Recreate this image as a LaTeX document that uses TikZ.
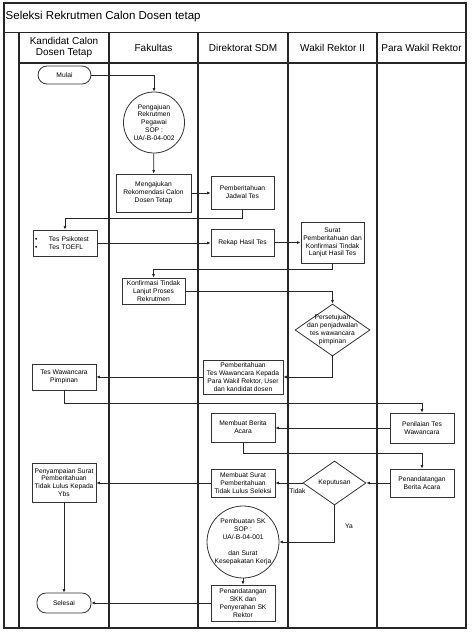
\documentclass[tikz,border=0pt]{standalone}
\usepackage{fontspec}
\setmainfont{Liberation Sans}
\usetikzlibrary{arrows.meta,shapes.geometric}
\newcommand\boxfont{\fontsize{6.7}{7.9}\selectfont}
\newcommand\headfont{\fontsize{10}{11}\selectfont}
\newcommand\titlefont{\fontsize{11.5}{13}\selectfont}
\begin{document}
\begin{tikzpicture}[x=1pt,y=-1pt,
lane/.style={line width=1.1pt,black!85},
proc/.style={draw=black!80,line width=0.8pt,minimum width=64pt,minimum height=28pt,inner sep=1pt,align=center,font=\boxfont},
term/.style={draw=black!80,line width=0.8pt,rounded corners=9pt,minimum width=54pt,minimum height=19pt,inner sep=1pt,font=\boxfont},
conn/.style={draw=black!80,line width=0.8pt,circle,inner sep=0pt,align=center,font=\boxfont},
dec/.style={draw=black!80,line width=0.8pt,diamond,inner sep=0pt},
inside/.style={font=\boxfont,align=center,inner sep=0pt},
arr/.style={line width=0.7pt,black!85,-{Latex[length=3.5pt,width=3pt]}},
]
\useasboundingbox (0,0) rectangle (474,632);
% swimlanes
\draw[lane] (4,3) rectangle (466,628);
\draw[lane] (4,32.5) -- (466,32.5);
\draw[lane] (19,63) -- (466,63);
\foreach \xx in {19,109,198,288,377}
  \draw[lane] (\xx,32.5) -- (\xx,628);
\node[anchor=west,inner sep=0pt,font=\titlefont] (judul) at (5.5,17) {Seleksi Rekrutmen Calon Dosen tetap};
\node[font=\headfont,align=center] (hkandidat) at (64,47.5) {Kandidat Calon\\Dosen Tetap};
\node[font=\headfont] (hfakultas) at (153.5,47.5) {Fakultas};
\node[font=\headfont] (hsdm) at (243,47.5) {Direktorat SDM};
\node[font=\headfont] (hwr) at (332.5,47.5) {Wakil Rektor II};
\node[font=\headfont] (hparawr) at (421.5,47.5) {Para Wakil Rektor};
% steps
\node[term,minimum width=53pt,minimum height=18pt] (mulai) at (64.5,75) {Mulai};
\node[conn,minimum size=61pt] (sop1) at (154,122.5) {Pengajuan\\Rekrutmen\\Pegawai\\SOP :\\UA/-B-04-002};
\node[proc,minimum width=75pt,minimum height=38pt] (rekom) at (153.5,193) {Mengajukan\\Rekomendasi Calon\\Dosen Tetap};
\node[proc,minimum width=63pt,minimum height=33pt] (jadwal) at (242.5,192.5) {Pemberitahuan\\Jadwal Tes};
\node[proc,minimum width=64pt,minimum height=26pt,align=left,text width=60pt,inner xsep=2pt] (tes) at (65,243)
  {\makebox[14pt][l]{\textbullet}Tes Psikotest\\\makebox[14pt][l]{\textbullet}Tes TOEFL};
\node[proc,minimum width=63pt,minimum height=27pt] (rekap) at (242.5,242.5) {Rekap Hasil Tes};
\node[proc,minimum width=63pt,minimum height=41pt] (surat) at (332.5,242.5) {Surat\\Pemberitahuan dan\\Konfirmasi Tindak\\Lanjut Hasil Tes};
\node[proc,minimum width=63pt,minimum height=26pt] (konfirm) at (153.5,291) {Konfirmasi Tindak\\Lanjut Proses\\Rekrutmen};
\node[dec,minimum width=75pt,minimum height=52pt,
  label={[inside]center:Persetujuan\\dan penjadwalan\\tes wawancara\\pimpinan}] (setuju) at (332.5,330) {};
\node[proc,minimum width=80pt,minimum height=34pt] (infowaw) at (243,377) {Pemberitahuan\\Tes Wawancara Kepada\\Para Wakil Rektor, User\\dan kandidat dosen};
\node[proc,minimum width=64pt,minimum height=26pt] (waw) at (64,377) {Tes Wawancara\\Pimpinan};
\node[proc,minimum width=64pt,minimum height=30pt] (nilai) at (422,428) {Penilaian Tes\\Wawancara};
\node[proc,minimum width=64pt,minimum height=29pt] (berita) at (243,427.5) {Membuat Berita\\Acara};
\node[proc,minimum width=64pt,minimum height=28pt] (ttdba) at (422,483) {Penandatangan\\Berita Acara};
\node[dec,minimum width=63pt,minimum height=44pt,label={[inside]center:Keputusan}] (putus) at (334.5,483) {};
\node[proc,minimum width=64pt,minimum height=28pt] (tdklulus) at (243,483) {Membuat Surat\\Pemberitahuan\\Tidak Lulus Seleksi};
\node[proc,minimum width=64pt,minimum height=39pt] (sampai) at (64,482.5) {Penyampaian Surat\\Pemberitahuan\\Tidak Lulus Kepada\\Ybs};
\node[conn,minimum size=72pt,
  label={[inside]center:Pembuatan SK\\SOP :\\UA/-B-04-001\\[7.9pt]dan Surat\\Kesepakatan Kerja}] (sk) at (243,542) {};
\node[proc,minimum width=64pt,minimum height=36pt] (ttdsk) at (243,603) {Penandatangan\\SKK dan\\Penyerahan SK\\Rektor};
\node[term,minimum width=54pt,minimum height=20pt] (selesai) at (64,603) {Selesai};
\node[font=\boxfont,inner sep=0pt] (ltidak) at (297.5,491) {Tidak};
\node[font=\boxfont,inner sep=0pt] (lya) at (349,526) {Ya};
% flow
\draw[arr] (mulai) -| (sop1);
\draw[arr] (sop1) -- (rekom);
\draw[arr] (rekom.east) -- (rekom.east -| jadwal.west);
\draw[arr] (jadwal.south) -- ++(0,9) -| (tes.north);
\draw[arr] (tes.east) -- (tes.east -| rekap.west);
\draw[arr] (rekap) -- (surat);
\draw[arr] (surat.south) -- ++(0,6) -| (konfirm.north);
\draw[arr] (konfirm) -| (setuju);
\draw[arr] (setuju) |- (infowaw);
\draw[arr] (infowaw) -- (waw);
\draw[arr] (waw.south) -- ++(0,13) -| (nilai.north);
\draw[arr] (nilai.west) -- (nilai.west -| berita.east);
\draw[arr] (berita.south) -- ++(0,11) -| (ttdba.north);
\draw[arr] (ttdba) -- (putus);
\draw[arr] (putus) -- (tdklulus);
\draw[arr] (tdklulus.west) -- (tdklulus.west -| sampai.east);
\draw[arr] (putus.south) |- (sk.east);
\draw[arr] (sk) -- (ttdsk);
\draw[arr] (ttdsk) -- (selesai);
\draw[arr] (sampai) -- (selesai);
\end{tikzpicture}
\end{document}
